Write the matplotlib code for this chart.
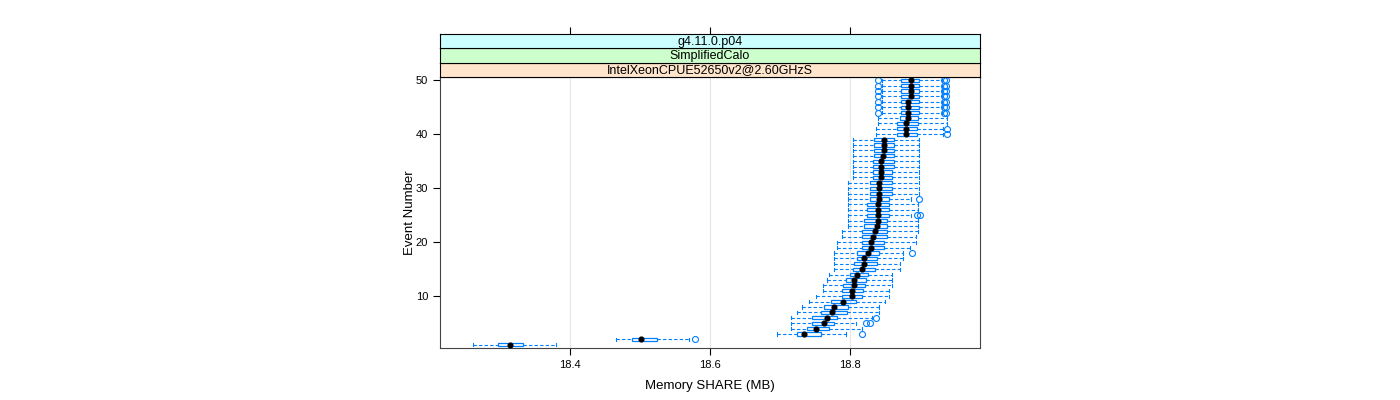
import matplotlib
matplotlib.use("Agg")
import matplotlib.pyplot as plt
from matplotlib.patches import Rectangle

plt.rcParams['font.family'] = ['Liberation Sans', 'DejaVu Sans']

events = list(range(1, 51))
whisker_lo = [18.261, 18.466, 18.696, 18.716, 18.716, 18.716, 18.724, 18.731, 18.741, 18.751,
              18.761, 18.761, 18.767, 18.770, 18.777, 18.777, 18.777, 18.777, 18.781, 18.781,
              18.789, 18.789, 18.797, 18.797, 18.797, 18.797, 18.797, 18.797, 18.797, 18.797,
              18.797, 18.804, 18.804, 18.804, 18.804, 18.804, 18.804, 18.804, 18.804, 18.837,
              18.837, 18.840, 18.840, 18.845, 18.845, 18.845, 18.845, 18.845, 18.845, 18.845]
q1 = [18.297, 18.489, 18.724, 18.739, 18.746, 18.746, 18.759, 18.763, 18.773, 18.789,
      18.789, 18.790, 18.794, 18.800, 18.804, 18.806, 18.810, 18.810, 18.817, 18.817,
      18.817, 18.817, 18.820, 18.820, 18.824, 18.824, 18.824, 18.829, 18.829, 18.829,
      18.829, 18.833, 18.833, 18.833, 18.833, 18.834, 18.834, 18.834, 18.834, 18.867,
      18.867, 18.867, 18.871, 18.873, 18.873, 18.873, 18.873, 18.873, 18.873, 18.873]
median = [18.314, 18.501, 18.734, 18.751, 18.763, 18.767, 18.774, 18.777, 18.790, 18.803,
          18.803, 18.806, 18.806, 18.810, 18.817, 18.820, 18.820, 18.826, 18.830, 18.830,
          18.833, 18.836, 18.839, 18.840, 18.840, 18.840, 18.840, 18.841, 18.841, 18.841,
          18.841, 18.844, 18.844, 18.844, 18.844, 18.847, 18.849, 18.849, 18.849, 18.880,
          18.880, 18.880, 18.883, 18.883, 18.883, 18.883, 18.887, 18.887, 18.887, 18.887]
q3 = [18.333, 18.524, 18.759, 18.770, 18.777, 18.781, 18.796, 18.797, 18.809, 18.817,
      18.819, 18.821, 18.823, 18.826, 18.836, 18.839, 18.839, 18.841, 18.849, 18.849,
      18.853, 18.853, 18.853, 18.853, 18.856, 18.856, 18.856, 18.856, 18.860, 18.860,
      18.860, 18.860, 18.860, 18.863, 18.863, 18.863, 18.863, 18.863, 18.863, 18.896,
      18.896, 18.897, 18.897, 18.899, 18.899, 18.899, 18.899, 18.899, 18.899, 18.899]
whisker_hi = [18.380, 18.570, 18.794, 18.817, 18.809, 18.831, 18.841, 18.841, 18.850, 18.856,
              18.856, 18.860, 18.860, 18.860, 18.871, 18.871, 18.876, 18.876, 18.886, 18.894,
              18.894, 18.897, 18.897, 18.897, 18.887, 18.897, 18.897, 18.887, 18.899, 18.899,
              18.899, 18.899, 18.899, 18.899, 18.899, 18.899, 18.899, 18.899, 18.899, 18.933,
              18.933, 18.939, 18.939, 18.931, 18.931, 18.931, 18.931, 18.931, 18.931, 18.931]
top_out = [18.840, 18.934, 18.937]
outliers = [[], [18.579], [18.817], [], [18.823, 18.829], [18.837], [], [], [], [],
            [], [], [], [], [], [], [], [18.889], [], [],
            [], [], [], [], [18.896, 18.900], [], [], [18.899], [], [],
            [], [], [], [], [], [], [], [], [], [18.939],
            [18.939], [], [], top_out, top_out, top_out, top_out, top_out, top_out, top_out]

strip_labels = ["IntelXeonCPUE52650v2@2.60GHzS", "SimplifiedCalo", "g4.11.0.p04"]
strip_colors = ["#FFE5CC", "#CCFFCC", "#CCFFFF"]
x_ticks = [18.4, 18.6, 18.8]
y_ticks = [10, 20, 30, 40, 50]

W, H = 1400, 400
fig = plt.figure(figsize=(14, 4), dpi=100)
px_l, px_r, px_t, px_b = 440, 980, 77, 348
ax = fig.add_axes([px_l / W, 1 - px_b / H, (px_r - px_l) / W, (px_b - px_t) / H])
ax.set_xlim(18.2143, 18.9857)
ax.set_ylim(0.4, 50.6)

blue = "#0080FF"
for xv in x_ticks:
    ax.axvline(xv, color="#E6E6E6", lw=0.8, zorder=0)

h = 0.6
for i, ev in enumerate(events):
    lo, a, m, b, hi = whisker_lo[i], q1[i], median[i], q3[i], whisker_hi[i]
    ax.plot([lo, a], [ev, ev], color=blue, lw=0.8, ls=(0, (3, 2)), zorder=2)
    ax.plot([b, hi], [ev, ev], color=blue, lw=0.8, ls=(0, (3, 2)), zorder=2)
    ax.plot([lo, lo], [ev - h / 2, ev + h / 2], color=blue, lw=0.8, zorder=2)
    ax.plot([hi, hi], [ev - h / 2, ev + h / 2], color=blue, lw=0.8, zorder=2)
    ax.add_patch(Rectangle((a, ev - h / 2), b - a, h, facecolor="none", edgecolor=blue, lw=0.9, zorder=3))
    ax.plot([m], [ev], marker="o", ms=3.4, color="black", mec="black", zorder=4)
    if outliers[i]:
        ax.plot(outliers[i], [ev] * len(outliers[i]), ls="none", marker="o", ms=4.3,
                mfc="none", mec=blue, mew=0.8, zorder=4)

ax.set_xticks(x_ticks)
ax.set_xticklabels([f"{v:.1f}" for v in x_ticks])
ax.set_yticks(y_ticks)
ax.tick_params(axis="both", direction="out", length=5, width=0.8, labelsize=8, color="black")
for s in ax.spines.values():
    s.set_linewidth(0.8)
    s.set_color("#444444")
ax.set_xlabel("Memory SHARE (MB)", fontsize=9.5, labelpad=7)
ax.set_ylabel("Event Number", fontsize=9.5, labelpad=0)

# strips
sh = 14.3
for k, (lab, col) in enumerate(zip(strip_labels, strip_colors)):
    top = px_t - sh * (k + 1)
    sax = fig.add_axes([px_l / W, 1 - (top + sh) / H, (px_r - px_l) / W, sh / H])
    sax.set_facecolor(col)
    sax.set_xlim(ax.get_xlim())
    sax.set_ylim(0, 1)
    sax.set_yticks([])
    for s in sax.spines.values():
        s.set_linewidth(0.8)
        s.set_color("black")
    if k == 2:
        sax.set_xticks(x_ticks)
        sax.tick_params(axis="x", top=True, bottom=False, labeltop=False, labelbottom=False,
                        direction="out", length=5, width=0.8)
    else:
        sax.set_xticks([])
    sax.text(0.5, 0.45, lab, transform=sax.transAxes, ha="center", va="center", fontsize=9)

fig.savefig("out.png", dpi=100)
